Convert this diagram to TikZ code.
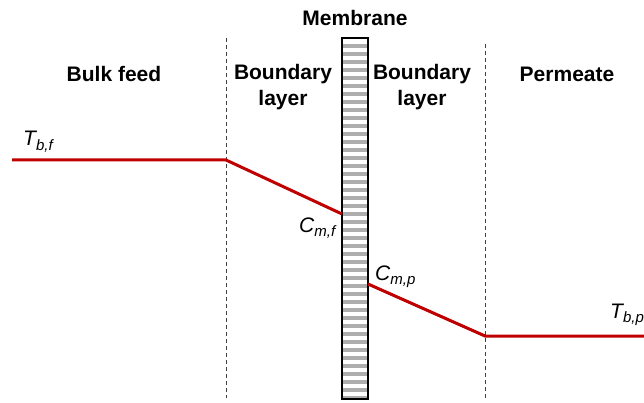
\documentclass[tikz,border=0pt]{standalone}
\usepackage{fontspec}
\setmainfont{Liberation Sans}
\begin{document}
\begin{tikzpicture}[x=1pt,y=-1pt,
  heading/.style={font=\fontsize{21}{26}\selectfont\bfseries, align=center, inner sep=0pt},
  conc/.style={font=\fontsize{21}{24}\selectfont\itshape, inner sep=0pt, anchor=base west},
  divider/.style={dash pattern=on 4pt off 3pt, line width=1pt, draw=black!75},
  profile/.style={draw={rgb,255:red,192;green,0;blue,0}, line width=3pt},
  stripe/.style={fill=black!32, draw=none}]
\newcommand{\sub}[1]{\raisebox{-0.45ex}{\fontsize{15}{15}\selectfont #1}}
\useasboundingbox (0,0) rectangle (644,403);
\fill[white] (0,0) rectangle (644,403);

% region dividers
\coordinate (d1t) at (226,38);  \coordinate (d1b) at (226,398);
\coordinate (d2t) at (485,44);  \coordinate (d2b) at (485,398);
\draw[divider] (d1t) -- (d1b);
\draw[divider] (d2t) -- (d2b);

% membrane with horizontal stripes
\fill[white] (342,38) rectangle (368,399);
\foreach \k in {0,...,44} {
  \fill[stripe] (343,{44+8*\k}) rectangle (367,{48+8*\k});
}
\node[draw=black, line width=2pt, minimum width=26pt, minimum height=361pt, inner sep=0pt] (mem) at (355,218.5) {};

% headings
\node[heading] (hmem) at (355,18) {Membrane};
\node[heading] (hfeed) at (114,74) {Bulk feed};
\node[heading] (hbl1) at (283,87) {Boundary\\layer};
\node[heading] (hbl2) at (422,87) {Boundary\\layer};
\node[heading] (hperm) at (567,74) {Permeate};

% concentration profile
\coordinate (p0) at (12,160);
\coordinate (p1) at (226,160);
\coordinate (p2) at (342,214);
\coordinate (p3) at (368,284);
\coordinate (p4) at (485,336);
\coordinate (p5) at (646,336);
\draw[profile] (p0) -- (p1) -- (p2);
\draw[profile] (p3) -- (p4) -- (p5);

% profile labels
\node[conc] (tbf) at (23,146) {T\sub{b,f}};
\node[conc] (cmf) at (299,232) {C\sub{m,f}};
\node[conc] (cmp) at (375,280) {C\sub{m,p}};
\node[conc] (tbp) at (610,318) {T\sub{b,p}};
\end{tikzpicture}
\end{document}
